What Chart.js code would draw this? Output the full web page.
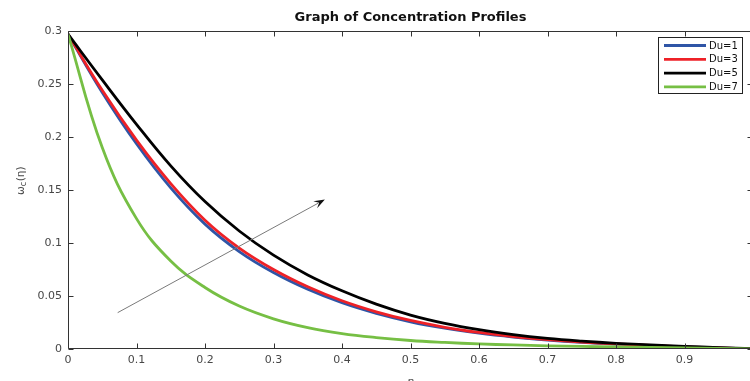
<!DOCTYPE html>
<html><head><meta charset="utf-8">
<script src="https://cdn.jsdelivr.net/npm/chart.js@4/dist/chart.umd.min.js"></script>
<style>html,body{margin:0;padding:0;overflow:hidden;background:#fff;width:750px;height:381px}canvas{display:block}</style>
</head><body><canvas id="c" width="758" height="381"></canvas>
<script>
// ---- data ----
const eta = [0,0.05,0.1,0.15,0.2,0.25,0.3,0.35,0.4,0.45,0.5,0.55,0.6,0.65,0.7,0.75,0.8,0.85,0.9,0.95,1];
const du1 = [0.297,0.242,0.1936,0.152,0.1178,0.0919,0.0721,0.0563,0.0436,0.0336,0.0257,0.0196,0.0149,0.0113,0.0085,0.0063,0.0046,0.0032,0.002,0.001,0.0001];
const du3 = [0.297,0.244,0.197,0.156,0.1215,0.0952,0.075,0.0587,0.0455,0.0351,0.0269,0.0205,0.0156,0.0118,0.0089,0.0066,0.0048,0.0034,0.0021,0.001,0.0001];
const du5 = [0.297,0.2539,0.212,0.1728,0.1391,0.1113,0.0885,0.0699,0.0549,0.0423,0.032,0.0242,0.0182,0.0136,0.0101,0.0075,0.0054,0.0038,0.0025,0.0013,0.0003];
const du7 = [0.297,0.19,0.123,0.083,0.058,0.0405,0.0285,0.0202,0.0146,0.0108,0.008,0.0062,0.0048,0.0038,0.003,0.0024,0.0019,0.0014,0.001,0.0006,0.0002];
const seriesLabels = ['Du=1','Du=3','Du=5','Du=7'];
const xTicks = [0,0.1,0.2,0.3,0.4,0.5,0.6,0.7,0.8,0.9,1];
const xTickLabels = ['0','0.1','0.2','0.3','0.4','0.5','0.6','0.7','0.8','0.9',''];
const yTicks = [0,0.05,0.1,0.15,0.2,0.25,0.3];
const yTickLabels = ['0','0.05','0.1','0.15','0.2','0.25','0.3'];
const arrowStart = [0.0725, 0.0343];
const arrowEnd = [0.375, 0.141];
const chartTitle = 'Graph of Concentration Profiles';
const xTitle = 'η';

const colors = ['#2f55a6','#ee2127','#000000','#76bf44'];
const FONT = "'DejaVu Sans', 'Liberation Sans', Arial, sans-serif";
const AXC = '#333333';
const TXC = '#474747';

function pts(ys){ return eta.map((x,i)=>({x:x,y:ys[i]})); }
const allSeries = [du1,du3,du5,du7];
const datasets = allSeries.map((s,i)=>({
  label: seriesLabels[i],
  data: pts(s),
  borderColor: colors[i],
  backgroundColor: colors[i],
  borderWidth: 2.8,
  pointRadius: 0,
  fill: false,
  tension: 0.4,
  order: 3 - i
}));

const decor = {
  id: 'decor',
  afterDatasetsDraw(chart){
    const ctx = chart.ctx, a = chart.chartArea;
    const xs = chart.scales.x, ys = chart.scales.y;
    ctx.save();
    // arrow
    const x0 = xs.getPixelForValue(arrowStart[0]), y0 = ys.getPixelForValue(arrowStart[1]);
    const x1 = xs.getPixelForValue(arrowEnd[0]), y1 = ys.getPixelForValue(arrowEnd[1]);
    const ang = Math.atan2(y1-y0, x1-x0);
    const hl = 11, hw = 4;
    ctx.strokeStyle = '#7a7a7a'; ctx.lineWidth = 1;
    ctx.beginPath(); ctx.moveTo(x0,y0);
    ctx.lineTo(x1 - Math.cos(ang)*hl*0.7, y1 - Math.sin(ang)*hl*0.7); ctx.stroke();
    ctx.fillStyle = '#111';
    ctx.beginPath();
    ctx.moveTo(x1,y1);
    ctx.lineTo(x1 - Math.cos(ang)*hl - Math.sin(ang)*hw, y1 - Math.sin(ang)*hl + Math.cos(ang)*hw);
    ctx.lineTo(x1 - Math.cos(ang)*hl*0.6, y1 - Math.sin(ang)*hl*0.6);
    ctx.lineTo(x1 - Math.cos(ang)*hl + Math.sin(ang)*hw, y1 - Math.sin(ang)*hl - Math.cos(ang)*hw);
    ctx.closePath(); ctx.fill();

    // box
    ctx.strokeStyle = AXC; ctx.lineWidth = 1;
    const L = Math.round(a.left)+0.5, R = Math.round(a.right)-0.5, T = Math.round(a.top)+0.5, B = Math.round(a.bottom)-0.5;
    ctx.beginPath();
    ctx.moveTo(L,T); ctx.lineTo(R,T); ctx.lineTo(R,B); ctx.lineTo(L,B); ctx.closePath(); ctx.stroke();
    // inward ticks
    const tl = 5;
    ctx.beginPath();
    xTicks.forEach(v=>{
      const px = Math.round(xs.getPixelForValue(v))+0.5;
      ctx.moveTo(px,B); ctx.lineTo(px,B-tl);
      ctx.moveTo(px,T); ctx.lineTo(px,T+tl);
    });
    yTicks.forEach(v=>{
      const py = Math.round(ys.getPixelForValue(v))+0.5;
      ctx.moveTo(L,py); ctx.lineTo(L+tl,py);
      ctx.moveTo(R,py); ctx.lineTo(R-tl,py);
    });
    ctx.stroke();

    // legend
    const lx = 658.5, ly = 37.5, lw = 84, lh = 56;
    ctx.fillStyle = '#fff'; ctx.fillRect(lx,ly,lw,lh);
    ctx.strokeStyle = '#222'; ctx.lineWidth = 1; ctx.strokeRect(lx,ly,lw,lh);
    ctx.font = '10px ' + FONT; ctx.textBaseline = 'middle'; ctx.textAlign = 'left';
    chart.data.datasets.forEach((d,i)=>{
      const yy = 45.5 + i*13.8;
      ctx.strokeStyle = d.borderColor; ctx.lineWidth = 2.8;
      ctx.beginPath(); ctx.moveTo(664,yy); ctx.lineTo(706,yy); ctx.stroke();
      ctx.fillStyle = '#111'; ctx.fillText(d.label, 709, yy+0.5);
    });

    // y axis label  ω_c(η)
    ctx.save();
    ctx.translate(20, 181);
    ctx.rotate(-Math.PI/2);
    ctx.fillStyle = TXC; ctx.textBaseline = 'alphabetic';
    const f1 = '10.5px ' + FONT, f2 = '8px ' + FONT;
    ctx.font = f1; const w1 = ctx.measureText('ω').width, w3 = ctx.measureText('(η)').width;
    ctx.font = f2; const w2 = ctx.measureText('c').width;
    let sx = -(w1+w2+w3)/2;
    ctx.font = f1; ctx.fillText('ω', sx, 3.5); sx += w1;
    ctx.font = f2; ctx.fillText('c', sx, 6); sx += w2 + 0.5;
    ctx.font = f1; ctx.fillText('(η)', sx, 3.5);
    ctx.restore();

    // x axis label
    ctx.fillStyle = TXC; ctx.font = 'italic 11px ' + FONT; ctx.textAlign = 'center'; ctx.textBaseline = 'middle';
    ctx.fillText(xTitle, (a.left+a.right)/2, 382);
    ctx.restore();
  }
};

new Chart(document.getElementById('c'), {
  type: 'line',
  data: { datasets },
  options: {
    responsive: false,
    devicePixelRatio: 1,
    animation: false,
    layout: { padding: { left: 0, right: 0, top: 0, bottom: 0 } },
    plugins: {
      legend: { display: false },
      tooltip: { enabled: false },
      title: {
        display: true, text: chartTitle, fullSize: false,
        color: '#111', font: { family: FONT, size: 13, weight: 'bold', lineHeight: 1.1 },
        padding: { top: 10.5, bottom: 6.2 }
      }
    },
    scales: {
      x: {
        type: 'linear', min: 0, max: 1,
        afterBuildTicks: s => { s.ticks = xTicks.map(v=>({value:v})); },
        afterFit: s => { s.height = 32; },
        grid: { display: false, drawTicks: false },
        border: { display: false },
        ticks: {
          autoSkip: false, maxRotation: 0, padding: 5, color: TXC,
          font: { family: FONT, size: 11 },
          callback: (v, i) => xTickLabels[i]
        }
      },
      y: {
        type: 'linear', min: 0, max: 0.3,
        afterBuildTicks: s => { s.ticks = yTicks.map(v=>({value:v})); },
        afterFit: s => { s.width = 68; },
        grid: { display: false, drawTicks: false },
        border: { display: false },
        ticks: {
          autoSkip: false, padding: 6, color: TXC,
          font: { family: FONT, size: 11 },
          callback: (v, i) => yTickLabels[i]
        }
      }
    }
  },
  plugins: [decor]
});
</script>
</body></html>
